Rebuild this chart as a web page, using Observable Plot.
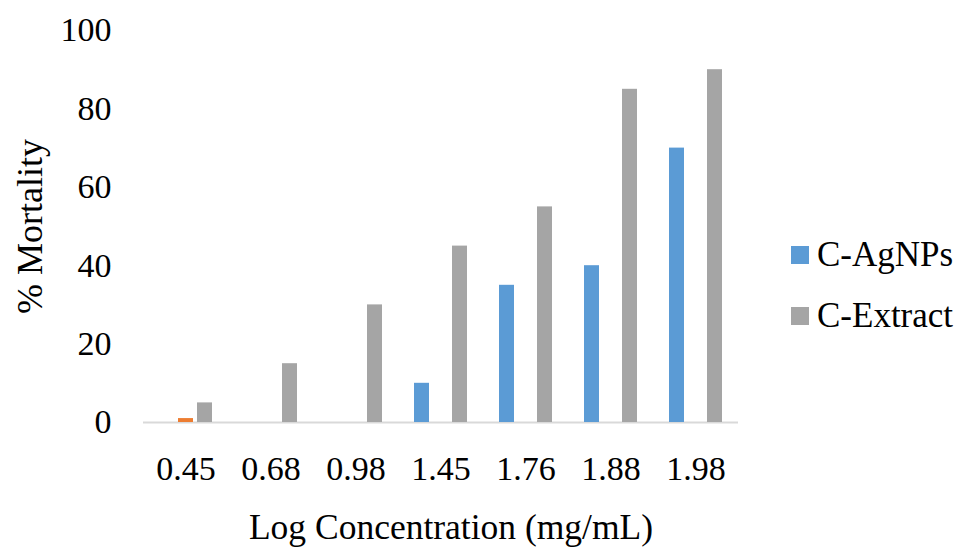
<!DOCTYPE html>
<html>
<head>
<meta charset="utf-8">
<script src="https://cdn.jsdelivr.net/npm/d3@7"></script>
<script src="https://cdn.jsdelivr.net/npm/@observablehq/plot@0.6"></script>
<style>
  html, body { margin: 0; padding: 0; background: #fff; }
  #wrap { position: relative; width: 961px; height: 547px; font-family: "Liberation Serif", "Times New Roman", serif; }
  #legend { position: absolute; left: 791px; top: 236px; font-size: 35px; color: #000; }
  #legend .row { display: flex; align-items: center; height: 38px; margin-bottom: 23px; white-space: nowrap; }
  #legend .sw { width: 18px; height: 18px; margin-right: 8px; flex: none; }
</style>
</head>
<body>
<div id="wrap"></div>
<script>
// Log concentration groups on the x axis
const categories = ["0.45", "0.68", "0.98", "1.45", "1.76", "1.88", "1.98"];
// % mortality per series
const agnps   = [0, 0, 0, 10, 35, 40, 70];
const series2 = [1, 0, 0, 0, 0, 0, 0];
const extract = [5, 15, 30, 45, 55, 85, 90];
const yTicks = [0, 20, 40, 60, 80, 100];

const seriesNames = ["C-AgNPs", "Series2", "C-Extract"];
const seriesColors = ["#5B9BD5", "#ED7D31", "#A5A5A5"];
const seriesValues = [agnps, series2, extract];

const rows = [];
categories.forEach((c, i) => {
  seriesNames.forEach((s, j) => rows.push({conc: c, series: s, value: seriesValues[j][i]}));
});

const chart = Plot.plot({
  width: 961,
  height: 547,
  marginLeft: 140,
  marginRight: 220,
  marginTop: 30,
  marginBottom: 125,
  style: {fontFamily: "'Liberation Serif', 'Times New Roman', serif", fontSize: "34px", color: "#000", background: "#fff"},
  fx: {domain: categories, padding: 0},
  x: {domain: seriesNames, paddingInner: 0.2, paddingOuter: 0.75, axis: null},
  y: {domain: [0, 100], axis: null},
  color: {domain: seriesNames, range: seriesColors},
  marks: [
    Plot.ruleY([0], {stroke: "#d9d9d9", strokeWidth: 2}),
    Plot.barY(rows, {fx: "conc", x: "series", y: "value", fill: "series"}),
    Plot.axisY({ticks: yTicks, tickSize: 0, tickPadding: 32, fontSize: 34, label: null}),
    Plot.axisFx({anchor: "bottom", tickSize: 0, tickPadding: 33, fontSize: 34, label: null}),
    // Axis titles, drawn once for the whole chart
    Plot.text(["% Mortality"], {facet: "super", frameAnchor: "left", textAnchor: "middle", lineAnchor: "middle",
      rotate: -90, dx: -113, fontSize: 36, fill: "#000"}),
    Plot.text(["Log Concentration (mg/mL)"], {facet: "super", frameAnchor: "bottom", dx: 10, dy: 116,
      fontSize: 35.5, fill: "#000"})
  ]
});

const wrap = document.getElementById("wrap");
wrap.appendChild(chart);

// Legend lists the two named series
const legend = document.createElement("div");
legend.id = "legend";
[["C-AgNPs", seriesColors[0]], ["C-Extract", seriesColors[2]]].forEach(([name, color]) => {
  const row = document.createElement("div");
  row.className = "row";
  const sw = document.createElement("span");
  sw.className = "sw";
  sw.style.background = color;
  const label = document.createElement("span");
  label.textContent = name;
  row.appendChild(sw);
  row.appendChild(label);
  legend.appendChild(row);
});
wrap.appendChild(legend);
</script>
</body>
</html>
